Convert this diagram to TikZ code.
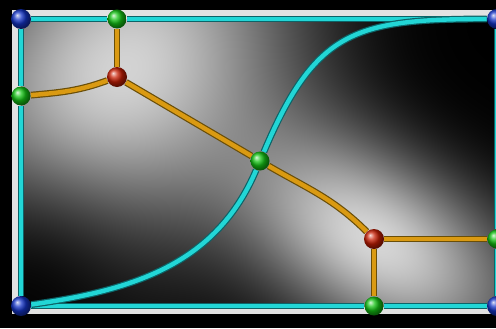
\documentclass[tikz,border=0pt]{standalone}
\usepackage{xcolor}
\definecolor{cCyan}{HTML}{22D6D6}
\definecolor{cCyanDark}{HTML}{0C6468}
\definecolor{cGold}{HTML}{DA9A12}
\definecolor{cGoldDark}{HTML}{6A4E08}
\definecolor{cFrame}{HTML}{E2E2E2}
\definecolor{cBlue}{HTML}{1434C8}
\definecolor{cGreen}{HTML}{14C414}
\definecolor{cRed}{HTML}{C81E04}
\usetikzlibrary{shadings}
\pgfdeclarelayer{bg}
\pgfdeclarelayer{edges}
\pgfsetlayers{bg,edges,main}
% grey field: two bright hills, two dark corners
\pgfdeclarefunctionalshading{field}{\pgfpoint{-50bp}{-50bp}}{\pgfpoint{50bp}{50bp}}{}{
  exch 9.92 mul 248 add exch 6.56 mul 164 add
  1 index 117 sub 1 index 251 sub
  1 index 0.0033455 mul 1 index 0.0037155 mul add
  3 1 roll 0.0044607 mul exch 0.004954 mul sub
  dup mul exch dup mul add neg 2.71828 exch exp 0.84 mul 1 exch sub
  2 index 2 index
  1 index 374 sub 1 index 89 sub
  1 index 0.0053 mul 1 index -0.0033119 mul add
  3 1 roll 0.009422 mul exch -0.005888 mul sub
  dup mul exch dup mul add neg 2.71828 exch exp 0.84 mul 1 exch sub
  3 1 roll pop pop mul 1 exch sub
  2 index 2 index
  1 index 21 sub 1 index 22 sub
  1 index 0.0077 mul 1 index 0 mul add
  3 1 roll 0.0077 mul exch 0 mul sub
  dup mul exch dup mul add neg 2.71828 exch exp 0.90 mul 1 exch sub
  3 1 roll pop pop mul
  2 index 2 index
  1 index 497 sub 1 index 309 sub
  1 index 0.009091 mul 1 index 0 mul add
  3 1 roll 0.009091 mul exch 0 mul sub
  dup mul exch dup mul add neg 2.71828 exch exp 0.95 mul 1 exch sub
  3 1 roll pop pop mul
  3 1 roll pop pop
  dup dup
}
\tikzset{
  node-ball/.style={circle,inner sep=0pt,minimum size=10pt,shading=ball},
  node-corner/.style={node-ball,ball color=cBlue},
  node-side/.style={node-ball,ball color=cGreen,minimum size=9.5pt},
  node-inner/.style={node-ball,ball color=cRed},
  line-border/.style={line width=0.6pt,draw=cCyanDark,double=cCyan,double distance=2.2pt},
  line-gold/.style={line width=0.6pt,draw=cGoldDark,double=cGold,double distance=2.2pt},
}

\begin{document}
\begin{tikzpicture}[x=0.5pt,y=0.5pt]
  \useasboundingbox (0,0) rectangle (496,328);
  % corners
  \node[node-corner] (tl) at (21,309) {};
  \node[node-corner] (tr) at (497,309) {};
  \node[node-corner] (bl) at (21,22) {};
  \node[node-corner] (br) at (497,22) {};
  % points on the border
  \node[node-side] (top)   at (117,309) {};
  \node[node-side] (left)  at (21,232) {};
  \node[node-side] (right) at (497,89) {};
  \node[node-side] (bot)   at (374,22) {};
  \node[node-side] (mid)   at (260,167) {};
  % inner points
  \node[node-inner] (ja) at (117,251) {};
  \node[node-inner] (jb) at (374,89) {};

  \begin{pgfonlayer}{bg}
    \fill[black] (0,0) rectangle (496,328);
    \fill[cFrame] (12,14) rectangle (512,318);
    \begin{scope}
      \clip (21,22) rectangle (497,309);
      \shade[shading=field] (0,0) rectangle (496,328);
    \end{scope}
  \end{pgfonlayer}

  \begin{pgfonlayer}{edges}
    \draw[line-border] (tl) -- (top);
    \draw[line-border] (top) -- (tr);
    \draw[line-border] (tl) -- (left);
    \draw[line-border] (left) -- (bl);
    \draw[line-border] (bl) -- (bot);
    \draw[line-border] (bot) -- (br);
    \draw[line-border] (tr) -- (right);
    \draw[line-border] (right) -- (br);
    \draw[line-border] (bl) to[out=8,in=-113] (mid);
    \draw[line-border] (mid) to[out=67,in=180,looseness=1.3] (tr);
    \draw[line-gold] (top) -- (ja);
    \draw[line-gold] (left) to[out=5,in=200] (ja);
    \draw[line-gold] (ja) -- (mid);
    \draw[line-gold] (mid) to[out=-30,in=135] (jb);
    \draw[line-gold] (jb) -- (right);
    \draw[line-gold] (jb) -- (bot);
  \end{pgfonlayer}
\end{tikzpicture}
\end{document}
